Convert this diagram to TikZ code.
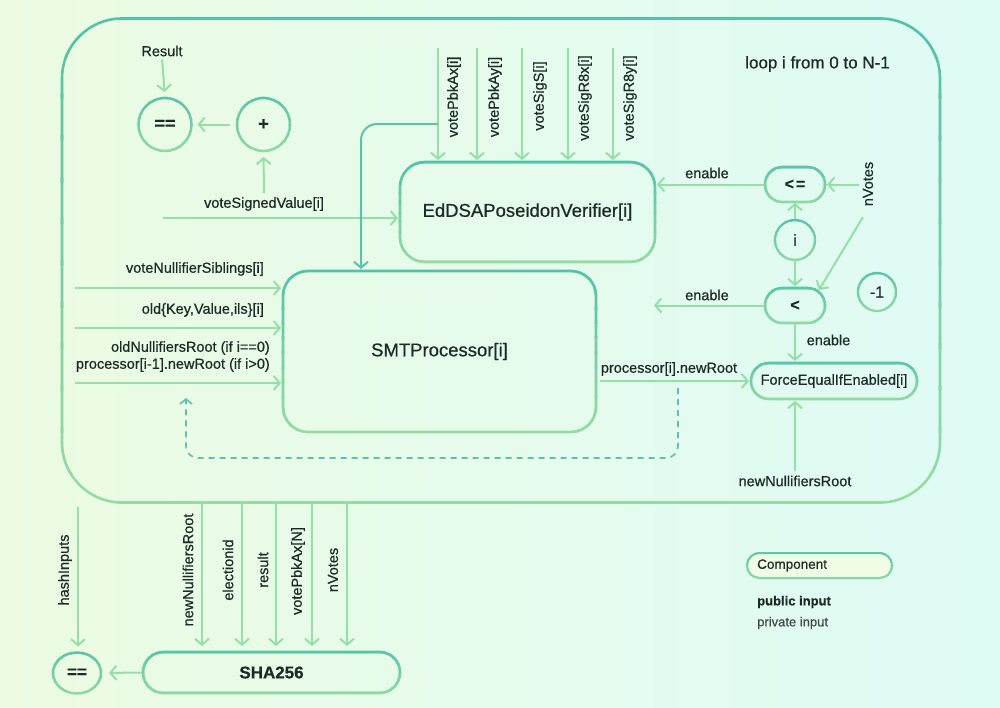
\documentclass[tikz,border=0pt]{standalone}
\usepackage{fontspec}
\setmainfont{Liberation Sans}[FakeBold=0.6]
\usetikzlibrary{arrows.meta,calc,shapes.geometric}
\definecolor{bgL}{HTML}{ECFBE2}
\definecolor{bgR}{HTML}{DFFBF6}
\definecolor{tealB}{HTML}{52C2A8}
\definecolor{greenB}{HTML}{95DCA2}
\definecolor{lgreen}{HTML}{95E0A6}
\definecolor{tealL}{HTML}{5CC2AC}
\definecolor{ink}{HTML}{1C2B27}
\definecolor{compfill}{HTML}{F1FCE6}
\newcommand\gradborder[3]{%
  \coordinate (gNW) at ($(#1.west |- #1.north)+(-8,-8)$);
  \coordinate (gSE) at ($(#1.east |- #1.south)+(8,8)$);
  \foreach \k in {0,...,11}{%
    \pgfmathsetmacro\fa{\k/12}%
    \pgfmathsetmacro\fb{(\k+1)/12+0.01}%
    \pgfmathtruncatemacro\pc{100-\k*100/11}%
    \begin{scope}
      \clip ($(gNW)!\fa!(gNW |- gSE)$) rectangle ($(gNW -| gSE)!\fb!(gSE)$);
      \draw[line width=#2, draw=tealB!\pc!greenB] #3;
    \end{scope}}}
\tikzset{
  lbl/.style={inner sep=1pt, text=ink, font=\fontsize{14.5}{17}\selectfont},
  vlbl/.style={lbl, rotate=90},
  arr/.style={draw=lgreen, line width=2pt, -{Straight Barb[length=6pt,width=14pt]}, shorten >=2pt},
  tarr/.style={arr, draw=tealL},
  dsh/.style={draw=tealL, line width=1.6pt, dash pattern=on 6pt off 5pt, -{Straight Barb[length=5pt,width=12pt]}},
  blk/.style={draw=none, inner sep=0pt, outer sep=0pt, text=ink},
  circ/.style={blk, circle, minimum size=#1},
  title/.style={font=\fontsize{18.5}{22}\selectfont},
}
\begin{document}
\begin{tikzpicture}[x=1pt,y=-1pt]
\useasboundingbox (0,0) rectangle (1000,707);
\shade[left color=bgL, right color=bgR] (0,0) rectangle (1000,707);

% ---------- nodes ----------
\node[blk, minimum width=878pt, minimum height=484pt] (loop) at (501,260.5) {};
\node[blk, anchor=center, font=\fontsize{17}{20}\selectfont] (looplbl) at (817.5,64) {loop i from 0 to N-1};

\node[circ=53pt, font=\bfseries\fontsize{18}{20}\selectfont] (eqA) at (165,124.5) {==};
\node[circ=53pt, font=\bfseries\fontsize{18}{20}\selectfont] (plus) at (263.5,124.5) {+};
\node[lbl] (res) at (162,51) {Result};
\node[lbl] (vsv) at (264,204) {voteSignedValue[i]};

\node[blk, title, minimum width=255pt, minimum height=100pt] (eddsa) at (527.5,212) {EdDSAPoseidonVerifier[i]};
\node[blk, title, minimum width=313pt, minimum height=161pt] (smt) at (439.5,351.5) {SMTProcessor[i]};

\node[blk, minimum width=60pt, minimum height=35pt, font=\bfseries\fontsize{16}{18}\selectfont] (le) at (795,184.5) {<\kern2pt=};
\node[circ=40pt, font=\fontsize{16}{18}\selectfont] (ic) at (795,240) {i};
\node[blk, minimum width=60pt, minimum height=35pt, font=\bfseries\fontsize{16}{18}\selectfont] (lt) at (795,305.5) {<};
\node[circ=38pt, font=\fontsize{16}{18}\selectfont] (m1) at (877,292) {-1};
\node[blk, minimum width=166pt, minimum height=36pt, font=\fontsize{14.5}{17}\selectfont] (force) at (834,381) {ForceEqualIfEnabled[i]};

\node[blk, ellipse, minimum width=48pt, minimum height=41pt, font=\bfseries\fontsize{17}{20}\selectfont] (eqB) at (77,673) {==};
\node[blk, minimum width=257pt, minimum height=41pt, font=\bfseries\fontsize{17}{20}\selectfont] (sha) at (271.5,672.5) {SHA256};

\node[blk, fill=compfill, rounded corners=12pt, minimum width=145pt, minimum height=25pt] (comp) at (819.5,565.5) {};
\node[lbl, anchor=west, font=\fontsize{13.5}{15}\selectfont] (complbl) at (756,565.5) {Component};
\node[lbl, anchor=west, font=\bfseries\fontsize{13}{15}\selectfont] (pub) at (756,602) {public input};
\node[lbl, anchor=west, font=\fontsize{13}{15}\selectfont, text=ink!85] (priv) at (756,623) {private input};

% ---------- borders ----------
\gradborder{loop}{2.6pt}{[rounded corners=60pt] (loop.north west) rectangle (loop.south east)}
\gradborder{eqA}{2.5pt}{(eqA) circle (26.5pt)}
\gradborder{plus}{2.5pt}{(plus) circle (26.5pt)}
\gradborder{eddsa}{2.7pt}{[rounded corners=25pt] (eddsa.north west) rectangle (eddsa.south east)}
\gradborder{smt}{2.7pt}{[rounded corners=25pt] (smt.north west) rectangle (smt.south east)}
\gradborder{le}{2.6pt}{[rounded corners=17.4pt] (le.north west) rectangle (le.south east)}
\gradborder{ic}{2.3pt}{(ic) circle (20pt)}
\gradborder{lt}{2.6pt}{[rounded corners=17.4pt] (lt.north west) rectangle (lt.south east)}
\gradborder{m1}{2.3pt}{(m1) circle (19pt)}
\gradborder{force}{2.6pt}{[rounded corners=17.9pt] (force.north west) rectangle (force.south east)}
\gradborder{eqB}{2.5pt}{(eqB) ellipse (24pt and 20.5pt)}
\gradborder{sha}{2.7pt}{[rounded corners=20.4pt] (sha.north west) rectangle (sha.south east)}
\gradborder{comp}{2pt}{[rounded corners=12.4pt] (comp.north west) rectangle (comp.south east)}

% ---------- upper left ----------
\draw[arr, shorten <=2pt, shorten >=6pt] (res.south) -- (eqA.north);
\draw[arr, shorten <=7pt, shorten >=6pt] (plus.west) -- (eqA.east);
\draw[arr, shorten <=3pt, shorten >=6pt] (vsv.north) -- (plus.south);
\coordinate (vsvin) at (163,218);
\draw[arr] (vsvin) -- (vsvin -| eddsa.west);

% ---------- EdDSA inputs ----------
\coordinate (in1) at (438,48);
\coordinate (in2) at (477,48);
\coordinate (in3) at (522,48);
\coordinate (in4) at (568,48);
\coordinate (in5) at (613,48);
\foreach \c in {in1,in2,in3,in4,in5}{\draw[arr] (\c) -- (\c |- eddsa.north);}
\node[vlbl] (t1) at (454,97) {votePbkAx[i]};
\node[vlbl] (t2) at (495,97) {votePbkAy[i]};
\node[vlbl] (t3) at (540,96) {voteSigS[i]};
\node[vlbl] (t4) at (585,98) {voteSigR8x[i]};
\node[vlbl] (t5) at (630,98) {voteSigR8y[i]};
\coordinate (tap) at (438,124);
\draw[tarr, rounded corners=16pt] (tap) -| ($(smt.north west)+(78,0)$);

% ---------- SMT inputs ----------
\coordinate (l1) at (75,288);
\coordinate (l2) at (75,328);
\coordinate (l3) at (75,383);
\foreach \c in {l1,l2,l3}{\draw[arr] (\c) -- (\c -| smt.west);}
\node[lbl, anchor=east] (s1lbl) at (265,269) {voteNullifierSiblings[i]};
\node[lbl, anchor=east] (s2lbl) at (265,310) {old\{Key,Value,ils\}[i]};
\node[lbl, anchor=east, align=right] (s3lbl) at (271,356.5) {oldNullifiersRoot (if i==0)\\processor[i-1].newRoot (if i>0)};

% ---------- comparators ----------
\draw[arr] (le.west) -- (le.west -| eddsa.east);
\node[lbl] (en1) at (707,173) {enable};
\node[vlbl] (nv) at (868,184) {nVotes};
\coordinate (nv1) at (859,184.5);
\draw[arr] (nv1) -- (le.east);
\coordinate (nv2) at (863,217);
\draw[arr, shorten >=0pt] (nv2) -- ($(lt.north east)+(-6,2)$);
\draw[arr, shorten <=1pt, shorten >=1pt] (ic.north) -- (le.south);
\draw[arr, shorten <=1pt, shorten >=2pt] (ic.south) -- (lt.north);
\coordinate (en2pt) at (652,305.5);
\draw[arr] (lt.west) -- (en2pt);
\node[lbl] (en2) at (707,295) {enable};
\draw[arr] (lt.south) -- (lt.south |- force.north);
\node[lbl] (en3) at (828.5,340) {enable};

% ---------- SMT output ----------
\draw[arr, shorten <=4pt] (smt.east |- force.west) -- (force.west);
\node[lbl] (pnr) at (669,369) {processor[i].newRoot};
\coordinate (d1) at (678,388);
\coordinate (dc) at (186,458);
\coordinate (d2) at (186,398);
\draw[dsh, rounded corners=12pt] (d1) |- (dc) -- (d2);
\coordinate (nn) at (795,471);
\draw[arr] (nn) -- (nn |- force.south);
\node[lbl] (nnlbl) at (795,481) {newNullifiersRoot};

% ---------- bottom ----------
\coordinate (hi) at (78,507);
\draw[arr, shorten >=6pt] (hi) -- (hi |- eqB.north);
\node[vlbl] (hil) at (65,570) {hashInputs};
\draw[arr, shorten <=1pt, shorten >=8pt] (sha.west) -- (eqB.east);
\coordinate (b1) at (202,503);
\coordinate (b2) at (242,503);
\coordinate (b3) at (276,503);
\coordinate (b4) at (312,503);
\coordinate (b5) at (347,503);
\foreach \c in {b1,b2,b3,b4,b5}{\draw[arr, shorten >=6pt] (\c) -- (\c |- sha.north);}
\node[vlbl] (bl1) at (188,570) {newNullifiersRoot};
\node[vlbl] (bl2) at (228,570) {electionid};
\node[vlbl] (bl3) at (263,570) {result};
\node[vlbl] (bl4) at (298,571) {votePbkAx[N]};
\node[vlbl] (bl5) at (333,570) {nVotes};
\end{tikzpicture}
\end{document}
